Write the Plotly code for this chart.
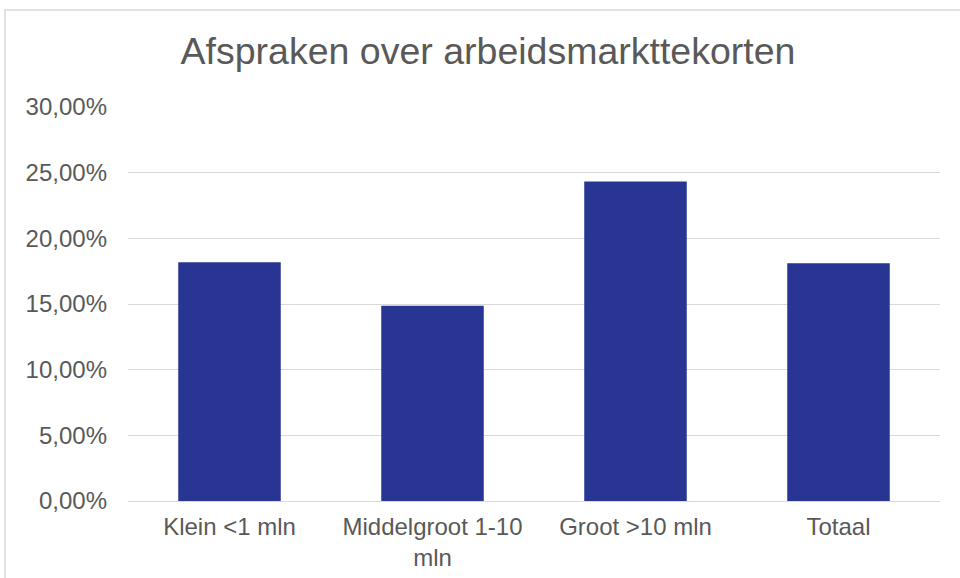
import plotly.graph_objects as go

categories = ["Klein <1 mln", "Middelgroot 1-10<br>mln", "Groot >10 mln", "Totaal"]
values = [18.18, 14.87, 24.32, 18.10]
tick_vals = [0, 5, 10, 15, 20, 25, 30]
tick_text = ["0,00%", "5,00%", "10,00%", "15,00%", "20,00%", "25,00%", "30,00%"]

W, H = 960, 578
L, R, T, B = 128, 20, 107, 77
pw, ph = W - L - R, H - T - B

def px_x(x):
    return (x - L) / pw

def px_y(y):
    return (H - B - y) / ph

fig = go.Figure(go.Bar(x=categories, y=values, marker_color="#283593",
                       marker_line_width=0, width=0.505))

fig.update_layout(
    width=W, height=H,
    margin=dict(l=L, r=R, t=T, b=B, autoexpand=False),
    paper_bgcolor="white", plot_bgcolor="white",
    font=dict(family="Liberation Sans, Arial, sans-serif", color="#595959", size=24),
    title=dict(text="Afspraken over arbeidsmarkttekorten", x=488 / W, xanchor="center",
               y=1 - 51 / H, yanchor="middle",
               font=dict(size=37.5, color="#595959")),
    showlegend=False,
    bargap=0.49,
    xaxis=dict(showgrid=False, showline=True, linecolor="#d9d9d9", linewidth=1,
               ticks="", tickfont=dict(size=24, color="#595959"), ticklabelstandoff=4,
               automargin=False),
    yaxis=dict(range=[0, 30], tickvals=tick_vals, ticktext=tick_text,
               showgrid=True, gridcolor="#d9d9d9", gridwidth=1, zeroline=False,
               showline=False, ticks="", tickfont=dict(size=24, color="#595959"),
               ticklabelstandoff=20, automargin=False),
    shapes=[dict(type="rect", xref="paper", yref="paper",
                 x0=px_x(5), x1=px_x(975), y0=px_y(600), y1=px_y(10),
                 line=dict(color="#d9d9d9", width=1.5), fillcolor="rgba(0,0,0,0)",
                 layer="below")],
)

fig.write_html("out.html", config={"displayModeBar": False},
               post_script="document.body.style.margin='0';")
